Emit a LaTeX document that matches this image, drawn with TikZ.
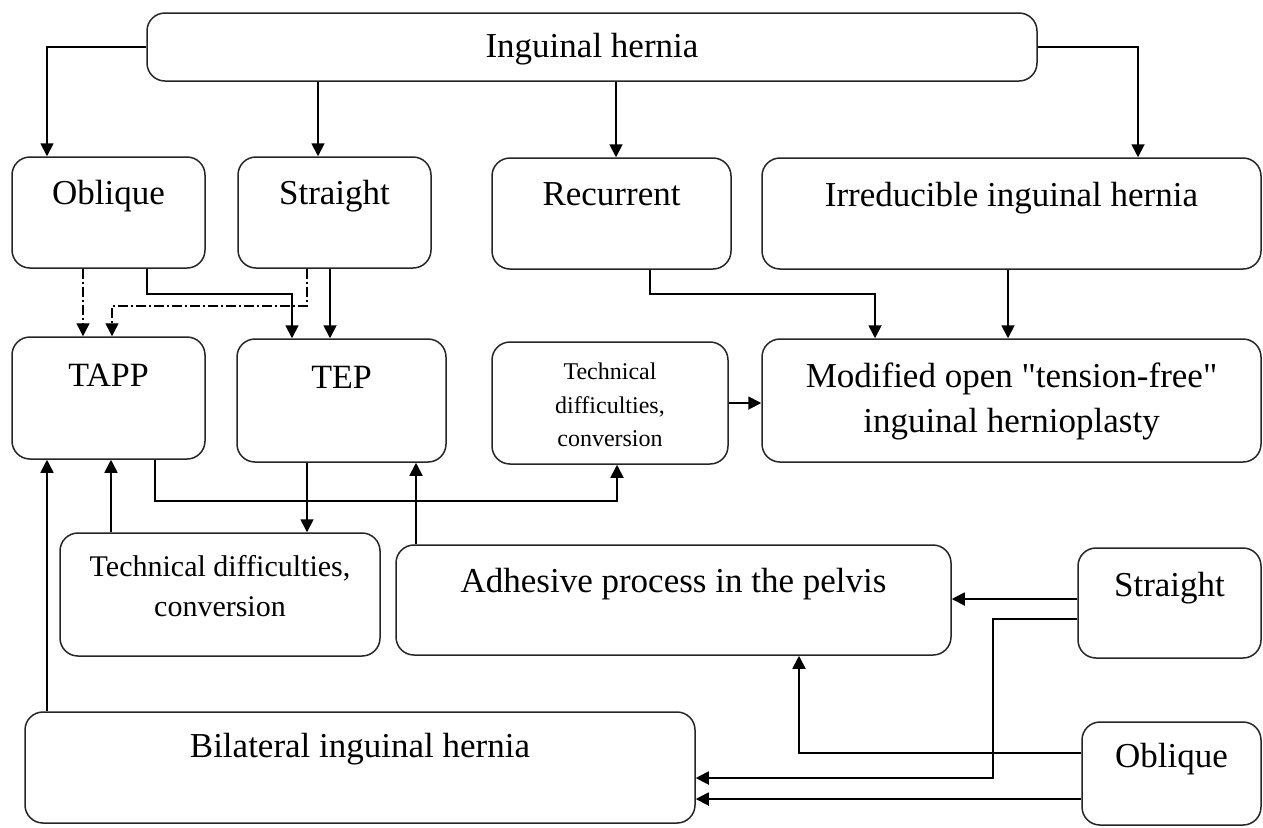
\documentclass[tikz,border=0pt]{standalone}
\usepackage{fontspec}
\setmainfont{Liberation Serif}[Ligatures=TeXOff]
\usepackage{tikz}
\usetikzlibrary{arrows.meta,positioning,calc,fit}
\tikzset{
  hbox/.style={draw=black!85,line width=0.75pt,rounded corners=9pt,inner sep=0pt},
  htxt/.style={align=center,inner sep=0pt,font=\fontsize{17.5}{22.5}\selectfont},
  htxtT/.style={htxt,font=\fontsize{17}{20}\selectfont},
  htxtS/.style={htxt,font=\fontsize{15}{20}\selectfont},
  htxtXS/.style={htxt,font=\fontsize{12}{16.75}\selectfont},
  harr/.style={-{Triangle[length=6.5pt,width=6.5pt]},line width=0.9pt},
  harrdd/.style={harr,line width=0.7pt,dash pattern=on 5pt off 1.5pt on 1pt off 1.5pt},
}
\begin{document}
\begin{tikzpicture}[x=0.5pt,y=-0.5pt]
  \fill[white] (0,0) rectangle (1263,827);
  \useasboundingbox (0,0) rectangle (1263,827);
  % boxes, placed by their corners
  \node[hbox,fit={(147,13) (1037,81)}] (ing) {};
  \node[hbox,fit={(12,157) (205,268)}] (obl) {};
  \node[hbox,fit={(238,157) (431,268)}] (str) {};
  \node[hbox,fit={(492,158) (731,269)}] (rec) {};
  \node[hbox,fit={(762,158) (1261,269)}] (irr) {};
  \node[hbox,fit={(12,337) (205,459)}] (tapp) {};
  \node[hbox,fit={(237,339) (446,462)}] (tep) {};
  \node[hbox,fit={(492,342) (728,464)}] (techA) {};
  \node[hbox,fit={(762,339) (1261,462)}] (mod) {};
  \node[hbox,fit={(60,533) (380,656)}] (techB) {};
  \node[hbox,fit={(396,545) (951,655)}] (adh) {};
  \node[hbox,fit={(1078,548) (1261,658)}] (strR) {};
  \node[hbox,fit={(25,712) (695,823)}] (bil) {};
  \node[hbox,fit={(1082,722) (1261,825)}] (oblR) {};
  % texts, hung from the top of each box
  \node[htxt,anchor=base] (ingT) at ([yshift=-22.5pt]ing.north) {Inguinal hernia};
  \node[htxt,anchor=base] (oblT) at ([yshift=-24pt]obl.north) {Oblique};
  \node[htxt,anchor=base] (strT) at ([yshift=-24pt]str.north) {Straight};
  \node[htxt,anchor=base] (recT) at ([yshift=-24pt]rec.north) {Recurrent};
  \node[htxt,anchor=base] (irrT) at ([yshift=-24.5pt]irr.north) {Irreducible inguinal hernia};
  \node[htxtT,anchor=base] (tappT) at ([yshift=-25pt]tapp.north) {TAPP};
  \node[htxtT,anchor=base] (tepT) at ([yshift=-25pt]tep.north) {TEP};
  \node[htxtXS] (techAT) at ([yshift=-32pt]techA.north) {Technical\\difficulties,\\conversion};
  \node[htxt] (modT) at ([yshift=-31.5pt]mod.north) {Modified open "tension-free"\\inguinal hernioplasty};
  \node[htxtS] (techBT) at ([yshift=-27pt]techB.north) {Technical difficulties,\\conversion};
  \node[htxt,anchor=base] (adhT) at ([yshift=-24pt]adh.north) {Adhesive process in the pelvis};
  \node[htxt,anchor=base] (strRT) at ([yshift=-24.5pt]strR.north) {Straight};
  \node[htxt,anchor=base] (bilT) at ([yshift=-23pt]bil.north) {Bilateral inguinal hernia};
  \node[htxt,anchor=base] (oblRT) at ([yshift=-23pt]oblR.north) {Oblique};
  % connectors
  \draw[harr] (ing.west) -| (47,0 |- obl.north);
  \draw[harr] (318,0 |- ing.south) -- (318,0 |- str.north);
  \draw[harr] (616,0 |- ing.south) -- (616,0 |- rec.north);
  \draw[harr] (ing.east) -| (1138,0 |- irr.north);
  \draw[harrdd] (83,0 |- obl.south) -- (83,0 |- tapp.north);
  \draw[harr] (147,0 |- obl.south) -- (147,294) -| (292,0 |- tep.north);
  \draw[harrdd] (307,0 |- str.south) -- (307,306) -| (112,0 |- tapp.north);
  \draw[harr] (330,0 |- str.south) -- (330,0 |- tep.north);
  \draw[harr] (650,0 |- rec.south) -- (650,294) -| (875,0 |- mod.north);
  \draw[harr] (1008,0 |- irr.south) -- (1008,0 |- mod.north);
  \draw[harr] (techA.east) -- (techA.east -| mod.west);
  \draw[harr] (155,0 |- tapp.south) -- (155,501) -| (617,0 |- techA.south);
  \draw[harr] (307,0 |- tep.south) -- (307,0 |- techB.north);
  \draw[harr] (111,0 |- techB.north) -- (111,0 |- tapp.south);
  \draw[harr] (47,0 |- bil.north) -- (47,0 |- tapp.south);
  \draw[harr] (416,0 |- adh.north) -- (416,0 |- tep.south);
  \draw[harr] (strR.west |- 0,599) -- (adh.east |- 0,599);
  \draw[harr] (strR.west |- 0,619) -| (993,778) -- (bil.east |- 0,778);
  \draw[harr] (oblR.west |- 0,753) -| (799,0 |- adh.south);
  \draw[harr] (oblR.west |- 0,799) -- (bil.east |- 0,799);
\end{tikzpicture}
\end{document}
